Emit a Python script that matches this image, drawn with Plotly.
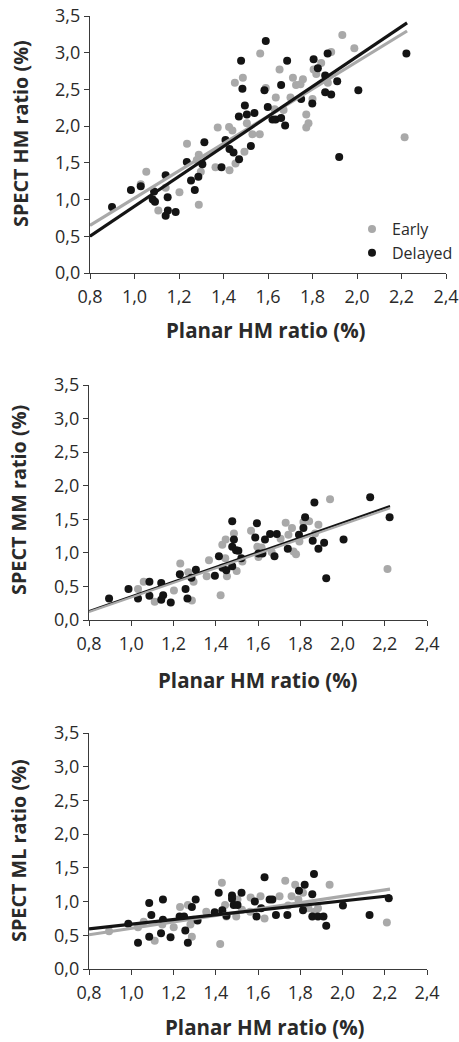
import plotly.graph_objects as go
import numpy as np

# ---------------- data ----------------
# Panel 1: SPECT HM ratio vs planar HM ratio
hm_early_x = [1.028, 1.053, 1.107, 1.140, 1.202, 1.236, 1.289, 1.289, 1.298, 1.280,
              1.364, 1.374, 1.425, 1.427, 1.440, 1.451, 1.454, 1.487, 1.494, 1.505,
              1.530, 1.563, 1.565, 1.590, 1.635, 1.652, 1.670, 1.701, 1.712, 1.726,
              1.746, 1.757, 1.772, 1.772, 1.782, 1.800, 1.805, 1.817, 1.839, 1.869,
              1.884, 1.934, 1.988, 2.214, 1.630]
hm_early_y = [1.21, 1.38, 0.85, 1.16, 1.10, 1.76, 0.93, 1.61, 1.38, 1.54,
              1.44, 1.98, 1.99, 1.40, 1.94, 2.59, 1.49, 2.66, 1.65, 2.04,
              1.89, 1.89, 2.99, 2.52, 2.39, 2.77, 2.22, 2.39, 2.66, 2.56,
              2.57, 2.64, 2.16, 1.98, 2.04, 2.37, 2.77, 2.71, 2.86, 2.59,
              3.01, 3.24, 3.06, 1.85, 2.23]
hm_delayed_x = [0.899, 0.984, 1.028, 1.088, 1.082, 1.092, 1.140, 1.149, 1.150, 1.140,
                1.185, 1.235, 1.254, 1.271, 1.287, 1.305, 1.314, 1.391, 1.409, 1.427,
                1.445, 1.470, 1.469, 1.479, 1.485, 1.496, 1.505, 1.523, 1.539, 1.584,
                1.590, 1.599, 1.620, 1.634, 1.659, 1.659, 1.677, 1.686, 1.749, 1.799,
                1.805, 1.824, 1.857, 1.857, 1.868, 1.884, 1.911, 1.920, 2.006, 2.222]
hm_delayed_y = [0.90, 1.13, 1.18, 1.11, 1.00, 0.97, 1.33, 1.03, 0.85, 0.78,
                0.83, 1.51, 1.26, 1.13, 1.31, 1.48, 1.78, 1.44, 1.81, 1.69,
                1.64, 1.55, 2.13, 2.89, 2.51, 2.28, 2.16, 1.73, 2.18, 2.49,
                3.16, 2.26, 2.09, 2.09, 2.11, 2.56, 2.01, 2.89, 2.37, 2.31,
                2.91, 2.79, 2.69, 2.46, 2.99, 2.43, 2.61, 1.58, 2.49, 2.99]

# Panel 2: SPECT MM ratio vs planar HM ratio
mm_early_x = [1.032, 1.059, 1.111, 1.202, 1.232, 1.270, 1.287, 1.295, 1.357, 1.368,
              1.423, 1.431, 1.447, 1.453, 1.445, 1.486, 1.499, 1.526, 1.567, 1.597,
              1.617, 1.602, 1.665, 1.707, 1.731, 1.744, 1.761, 1.768, 1.780, 1.796,
              1.815, 1.842, 1.886, 1.941, 2.213, 1.870]
mm_early_y = [0.46, 0.57, 0.27, 0.44, 0.84, 0.71, 0.29, 0.57, 0.65, 0.89,
              0.37, 1.12, 1.20, 0.65, 0.92, 1.29, 0.73, 0.87, 1.33, 1.09,
              1.08, 0.94, 1.01, 1.21, 1.45, 1.27, 1.37, 1.02, 0.98, 1.17,
              1.46, 1.47, 1.42, 1.80, 0.76, 1.29]
mm_delayed_x = [0.895, 0.987, 1.032, 1.086, 1.086, 1.142, 1.151, 1.142, 1.187, 1.230,
                1.257, 1.266, 1.285, 1.306, 1.396, 1.415, 1.432, 1.450, 1.478, 1.478,
                1.486, 1.478, 1.496, 1.507, 1.521, 1.595, 1.587, 1.602, 1.621, 1.633,
                1.657, 1.689, 1.678, 1.741, 1.794, 1.815, 1.823, 1.859, 1.867, 1.886,
                1.913, 1.923, 2.005, 2.131, 2.223]
mm_delayed_y = [0.32, 0.46, 0.32, 0.57, 0.36, 0.55, 0.37, 0.30, 0.26, 0.68,
                0.46, 0.32, 0.63, 0.75, 0.66, 0.95, 0.78, 0.74, 1.47, 1.09,
                1.20, 0.80, 1.04, 1.03, 0.92, 1.44, 1.23, 0.99, 0.99, 1.20,
                1.28, 1.28, 0.95, 1.06, 1.27, 1.37, 1.53, 1.18, 1.75, 1.06,
                1.15, 0.62, 1.20, 1.83, 1.53]

# Panel 3: SPECT ML ratio vs planar HM ratio
ml_early_x = [0.895, 1.032, 1.059, 1.111, 1.147, 1.201, 1.231, 1.268, 1.287, 1.294,
              1.280, 1.355, 1.421, 1.429, 1.444, 1.450, 1.497, 1.503, 1.524, 1.565,
              1.563, 1.612, 1.631, 1.702, 1.729, 1.743, 1.759, 1.776, 1.791, 1.813,
              1.839, 1.868, 1.884, 1.939, 2.210]
ml_early_y = [0.56, 0.62, 0.70, 0.42, 0.66, 0.62, 0.92, 0.95, 0.48, 0.73,
              0.66, 0.85, 0.37, 1.28, 0.95, 0.78, 0.78, 1.03, 0.88, 1.06,
              0.85, 1.08, 0.75, 1.08, 1.31, 0.94, 1.08, 1.25, 1.03, 1.13,
              0.90, 0.85, 0.90, 1.25, 0.69]
ml_delayed_x = [0.986, 1.032, 1.085, 1.095, 1.085, 1.141, 1.150, 1.150, 1.186, 1.229,
                1.250, 1.256, 1.268, 1.287, 1.305, 1.314, 1.395, 1.414, 1.431, 1.451,
                1.477, 1.477, 1.485, 1.503, 1.522, 1.585, 1.593, 1.631, 1.615, 1.655,
                1.668, 1.685, 1.739, 1.794, 1.813, 1.821, 1.857, 1.865, 1.857, 1.884,
                1.910, 1.923, 2.002, 2.128, 2.219]
ml_delayed_y = [0.67, 0.39, 0.98, 0.80, 0.48, 0.53, 1.03, 0.73, 0.47, 0.78,
                0.78, 0.57, 0.39, 0.92, 1.03, 0.72, 0.84, 1.13, 0.87, 0.79,
                1.09, 1.04, 0.95, 0.95, 1.13, 1.00, 0.78, 1.36, 0.90, 1.03,
                1.03, 0.80, 0.80, 1.16, 0.87, 1.25, 1.11, 1.41, 0.78, 0.78,
                0.78, 0.64, 0.94, 0.80, 1.05]

# Regression lines (slope, intercept), drawn over fit_x_range
fit_x_range = [0.8, 2.225]
hm_early_fit = [1.857, -0.836]
hm_delayed_fit = [2.039, -1.131]
mm_early_fit = [1.085, -0.748]
mm_delayed_fit = [1.099, -0.749]
ml_early_fit = [0.475, 0.128]
ml_delayed_fit = [0.344, 0.321]

x_ticks = [0.8, 1.0, 1.2, 1.4, 1.6, 1.8, 2.0, 2.2, 2.4]
y_ticks = [0.0, 0.5, 1.0, 1.5, 2.0, 2.5, 3.0, 3.5]
y_titles = ["SPECT HM ratio (%)", "SPECT MM ratio (%)", "SPECT ML ratio (%)"]
x_title = "Planar HM ratio (%)"

# ---------------- figure ----------------
W, H = 459, 1042
GREY = "#a9a9a9"
BLACK = "#141414"
FONT = "Open Sans"

# panel boxes in pixels: (left, right, top, bottom)
boxes = [(90, 446, 16, 273), (89, 427, 385, 620), (89, 427, 733, 969)]
line_w = [3.2, 2.2, 3.2]

fig = go.Figure()

panels = [
    (hm_early_x, hm_early_y, hm_delayed_x, hm_delayed_y, hm_early_fit, hm_delayed_fit),
    (mm_early_x, mm_early_y, mm_delayed_x, mm_delayed_y, mm_early_fit, mm_delayed_fit),
    (ml_early_x, ml_early_y, ml_delayed_x, ml_delayed_y, ml_early_fit, ml_delayed_fit),
]

fx = np.array(fit_x_range)
for i, (ex, ey, dx, dy, efit, dfit) in enumerate(panels):
    xa = "x" if i == 0 else f"x{i+1}"
    ya = "y" if i == 0 else f"y{i+1}"
    first = i == 0
    fig.add_trace(go.Scatter(x=ex, y=ey, mode="markers", name="Early",
                             marker=dict(color=GREY, size=8, line=dict(width=0)),
                             showlegend=first, xaxis=xa, yaxis=ya))
    fig.add_trace(go.Scatter(x=dx, y=dy, mode="markers", name="Delayed",
                             marker=dict(color=BLACK, size=8, line=dict(width=0)),
                             showlegend=first, xaxis=xa, yaxis=ya))
    e_line = go.Scatter(x=fx, y=efit[0] * fx + efit[1], mode="lines",
                        line=dict(color=GREY, width=line_w[i]), showlegend=False,
                        hoverinfo="skip", xaxis=xa, yaxis=ya)
    d_line = go.Scatter(x=fx, y=dfit[0] * fx + dfit[1], mode="lines",
                        line=dict(color=BLACK, width=line_w[i]), showlegend=False,
                        hoverinfo="skip", xaxis=xa, yaxis=ya)
    if i == 1:
        fig.add_trace(d_line)
        fig.add_trace(e_line)
    else:
        fig.add_trace(e_line)
        fig.add_trace(d_line)

layout = dict(
    width=W, height=H,
    margin=dict(l=0, r=0, t=0, b=0, autoexpand=False),
    paper_bgcolor="white", plot_bgcolor="white",
    separators=",.",
    font=dict(family=FONT, color="#2a2a2a", size=17),
    showlegend=True,
    legend=dict(x=352 / W, y=1 - 212 / H, xanchor="left", yanchor="top",
                bgcolor="rgba(0,0,0,0)", font=dict(size=16, family=FONT, color="#2a2a2a"),
                itemwidth=30, tracegroupgap=0, borderwidth=0),
)

annotations = []
for i, (l, r, t, b) in enumerate(boxes):
    xk = "xaxis" if i == 0 else f"xaxis{i+1}"
    yk = "yaxis" if i == 0 else f"yaxis{i+1}"
    ax_common = dict(showline=True, linecolor="#3a3a3a", linewidth=1.2, ticks="outside",
                     ticklen=5, tickwidth=1.2, tickcolor="#3a3a3a", showgrid=False,
                     zeroline=False, tickfont=dict(size=18, family=FONT, color="#2a2a2a"),
                     tickformat=".1f", fixedrange=True, automargin=False)
    layout[xk] = dict(domain=[l / W, r / W], range=[0.8, 2.4], tickvals=x_ticks,
                      anchor="y" if i == 0 else f"y{i+1}", ticklabelstandoff=2, **ax_common)
    layout[yk] = dict(domain=[1 - b / H, 1 - t / H], range=[0, 3.5], tickvals=y_ticks,
                      anchor="x" if i == 0 else f"x{i+1}", **ax_common)

# axis titles (placed as annotations)
ytitle_pos = [(20, 134), (18, 500), (18, 851)]
xtitle_pos = [(266, 330), (258, 680), (265, 1027)]
for i in range(3):
    yx, yy = ytitle_pos[i]
    annotations.append(dict(text=f"<b>{y_titles[i]}</b>", x=yx / W, y=1 - yy / H,
                            xref="paper", yref="paper", showarrow=False, textangle=-90,
                            xanchor="center", yanchor="middle",
                            font=dict(size=19.8, family=FONT, color="#2a2a2a")))
    xx, xy = xtitle_pos[i]
    annotations.append(dict(text=f"<b>{x_title}</b>", x=xx / W, y=1 - xy / H,
                            xref="paper", yref="paper", showarrow=False,
                            xanchor="center", yanchor="middle",
                            font=dict(size=20.5, family=FONT, color="#2a2a2a")))
layout["annotations"] = annotations

fig.update_layout(**layout)
fig.write_html("out.html",
               config={"displayModeBar": False, "staticPlot": False},
               post_script="document.body.style.margin='0px';document.body.style.padding='0px';"
                           "document.body.style.overflow='hidden';")
